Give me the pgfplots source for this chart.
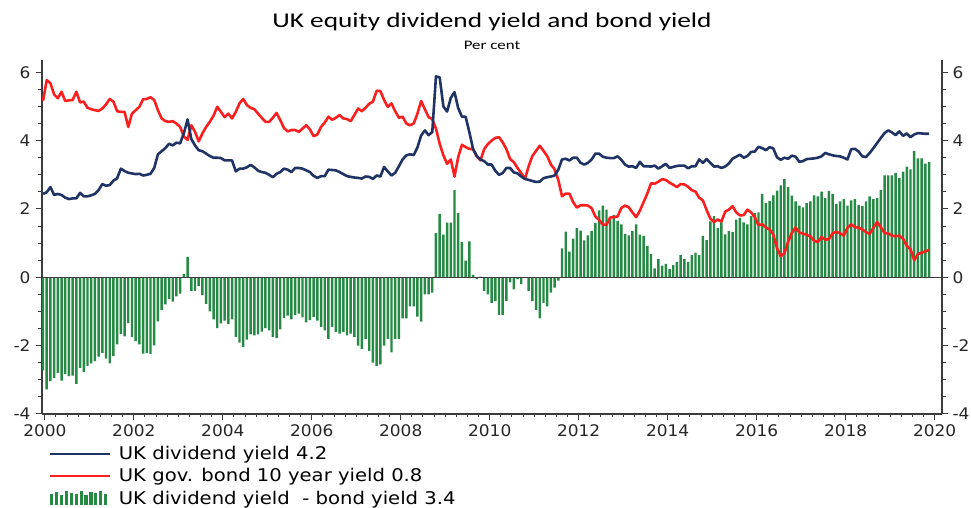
\documentclass[border=0pt]{standalone}
\usepackage{fontspec}
\usepackage{pgfplots}
\usepackage{pgfplotstable}
\pgfplotsset{compat=1.18}
\newfontfamily\titlefont[FakeStretch=1.3]{Carlito}
\newfontfamily\tickfont[FakeStretch=1.06]{DejaVu Sans}
\newfontfamily\legfont[FakeStretch=1.12]{DejaVu Sans}
\definecolor{navy}{RGB}{31,52,100}
\definecolor{bondred}{RGB}{250,32,32}
\definecolor{barg}{RGB}{38,138,68}
\definecolor{axgray}{RGB}{60,60,60}

\pgfplotstableread{
m div bond diff
0 2.44 5.16 -2.72
1 2.49 5.77 -3.28
2 2.64 5.68 -3.04
3 2.41 5.35 -2.94
4 2.44 5.24 -2.80
5 2.41 5.43 -3.02
6 2.33 5.16 -2.83
7 2.29 5.18 -2.89
8 2.31 5.19 -2.88
9 2.31 5.43 -3.12
10 2.47 5.12 -2.65
11 2.37 5.14 -2.77
12 2.37 4.96 -2.59
13 2.40 4.92 -2.52
14 2.44 4.89 -2.45
15 2.55 4.87 -2.32
16 2.73 4.94 -2.21
17 2.68 5.06 -2.38
18 2.70 5.22 -2.52
19 2.83 5.14 -2.31
20 2.90 4.86 -1.96
21 3.18 4.84 -1.66
22 3.11 4.84 -1.73
23 3.06 4.40 -1.34
24 3.04 4.79 -1.75
25 3.02 4.89 -1.87
26 3.03 4.99 -1.96
27 2.98 5.21 -2.23
28 3.00 5.22 -2.22
29 3.03 5.27 -2.24
30 3.20 5.19 -1.99
31 3.60 4.89 -1.29
32 3.69 4.65 -0.96
33 3.78 4.57 -0.79
34 3.91 4.55 -0.64
35 3.86 4.57 -0.71
36 3.94 4.50 -0.56
37 3.92 4.40 -0.48
38 4.22 4.12 0.10
39 4.62 4.02 0.60
40 4.05 4.45 -0.40
41 3.86 4.26 -0.40
42 3.72 3.98 -0.26
43 3.69 4.21 -0.52
44 3.62 4.40 -0.78
45 3.55 4.55 -1.00
46 3.50 4.73 -1.23
47 3.50 4.99 -1.49
48 3.49 4.84 -1.35
49 3.42 4.69 -1.27
50 3.42 4.79 -1.37
51 3.42 4.65 -1.23
52 3.10 4.84 -1.74
53 3.18 5.09 -1.91
54 3.18 5.22 -2.04
55 3.22 5.04 -1.82
56 3.29 4.96 -1.67
57 3.22 4.92 -1.70
58 3.12 4.79 -1.67
59 3.08 4.67 -1.59
60 3.06 4.55 -1.49
61 3.00 4.55 -1.55
62 2.93 4.67 -1.74
63 3.03 4.81 -1.78
64 3.08 4.60 -1.52
65 3.18 4.37 -1.19
66 3.15 4.27 -1.12
67 3.08 4.31 -1.23
68 3.20 4.31 -1.11
69 3.20 4.26 -1.06
70 3.18 4.35 -1.17
71 3.13 4.45 -1.32
72 3.08 4.33 -1.25
73 2.97 4.13 -1.16
74 2.91 4.18 -1.27
75 2.96 4.40 -1.45
76 2.96 4.53 -1.55
77 3.15 4.70 -1.80
78 3.14 4.61 -1.45
79 3.13 4.67 -1.60
80 3.08 4.75 -1.65
81 3.02 4.65 -1.60
82 2.96 4.63 -1.70
83 2.94 4.57 -1.65
84 2.92 4.75 -1.75
85 2.91 4.94 -2.00
86 2.89 4.86 -2.10
87 2.95 4.96 -1.80
88 2.94 5.08 -2.15
89 2.88 5.14 -2.50
90 2.98 5.46 -2.60
91 2.95 5.45 -2.55
92 3.23 5.19 -2.00
93 3.10 4.99 -1.80
94 2.98 5.09 -2.20
95 3.06 4.86 -1.80
96 3.25 4.67 -1.80
97 3.45 4.70 -1.20
98 3.57 4.50 -1.20
99 3.60 4.45 -0.85
100 3.58 4.50 -0.85
101 3.80 4.79 -1.15
102 4.15 5.16 -1.30
103 4.30 4.92 -0.50
104 4.16 4.69 -0.50
105 4.25 4.63 -0.45
106 5.88 4.35 1.29
107 5.85 3.91 1.86
108 5.00 3.57 1.25
109 4.85 3.32 1.60
110 5.25 3.45 1.60
111 5.42 2.95 2.55
112 4.95 3.52 1.88
113 4.70 3.88 1.03
114 4.70 3.81 0.49
115 4.25 3.76 1.05
116 3.76 3.75 0.07
117 3.55 3.54 -0.05
118 3.45 3.42 0.02
119 3.40 3.75 -0.40
120 3.30 3.90 -0.50
121 3.30 4.00 -0.75
122 3.12 4.08 -0.70
123 3.00 4.10 -1.10
124 3.05 3.95 -1.10
125 3.20 3.75 -0.70
126 3.20 3.46 -0.15
127 3.07 3.37 -0.35
128 3.04 3.20 -0.05
129 2.95 3.05 -0.20
130 2.88 2.88 -0.02
131 2.85 3.25 -0.40
132 2.82 3.55 -0.70
133 2.79 3.70 -0.95
134 2.80 3.85 -1.20
135 2.90 3.70 -0.75
136 2.93 3.55 -0.85
137 2.95 3.30 -0.45
138 2.98 3.16 -0.30
139 3.15 2.85 -0.10
140 3.45 2.37 0.85
141 3.47 2.45 1.34
142 3.42 2.45 0.75
143 3.50 2.20 1.13
144 3.50 2.04 1.44
145 3.35 2.11 1.37
146 3.30 2.11 1.08
147 3.35 2.10 1.23
148 3.45 2.02 1.36
149 3.62 1.78 1.59
150 3.62 1.68 1.96
151 3.53 1.54 2.10
152 3.50 1.54 1.98
153 3.49 1.75 1.72
154 3.49 1.76 1.83
155 3.54 1.78 1.65
156 3.44 2.03 1.55
157 3.30 2.10 1.27
158 3.24 2.05 1.23
159 3.25 1.90 1.35
160 3.20 1.76 1.55
161 3.38 1.95 1.25
162 3.25 2.20 1.21
163 3.25 2.45 0.92
164 3.24 2.75 0.68
165 3.27 2.74 0.26
166 3.18 2.80 0.53
167 3.25 2.87 0.34
168 3.32 2.85 0.39
169 3.20 2.77 0.24
170 3.23 2.71 0.36
171 3.26 2.64 0.45
172 3.27 2.73 0.65
173 3.27 2.72 0.53
174 3.19 2.65 0.45
175 3.25 2.55 0.65
176 3.25 2.51 0.72
177 3.45 2.33 0.65
178 3.35 2.25 1.21
179 3.46 1.97 1.09
180 3.35 1.72 1.64
181 3.24 1.62 1.79
182 3.25 1.69 1.45
183 3.20 1.63 1.61
184 3.24 1.92 1.26
185 3.33 1.98 1.35
186 3.47 2.08 1.32
187 3.53 1.90 1.69
188 3.59 1.81 1.74
189 3.50 1.82 1.61
190 3.55 1.98 1.55
191 3.67 1.90 1.79
192 3.68 1.76 1.88
193 3.82 1.53 1.90
194 3.78 1.55 2.44
195 3.72 1.46 2.17
196 3.81 1.40 2.24
197 3.77 1.25 2.40
198 3.51 0.85 2.54
199 3.44 0.62 2.69
200 3.50 0.70 2.87
201 3.47 1.05 2.64
202 3.56 1.30 2.39
203 3.53 1.46 2.22
204 3.38 1.31 2.10
205 3.40 1.28 2.05
206 3.46 1.24 2.17
207 3.47 1.20 2.22
208 3.48 1.07 2.40
209 3.50 1.03 2.37
210 3.54 1.18 2.51
211 3.64 1.10 2.32
212 3.60 1.12 2.53
213 3.57 1.29 2.44
214 3.55 1.33 2.15
215 3.54 1.29 2.22
216 3.50 1.22 2.29
217 3.45 1.45 2.10
218 3.75 1.55 2.25
219 3.76 1.47 2.29
220 3.68 1.45 2.12
221 3.54 1.40 2.08
222 3.52 1.32 2.22
223 3.64 1.27 2.37
224 3.78 1.45 2.29
225 3.93 1.62 2.32
226 4.08 1.46 2.56
227 4.22 1.30 2.98
228 4.30 1.28 2.98
229 4.24 1.22 2.98
230 4.16 1.20 3.06
231 4.27 1.22 2.90
232 4.14 1.13 3.09
233 4.21 0.92 3.24
234 4.10 0.82 3.16
235 4.18 0.50 3.70
236 4.22 0.68 3.48
237 4.21 0.72 3.48
238 4.20 0.76 3.33
239 4.20 0.80 3.38
}\data

\begin{document}
\begin{tikzpicture}
\useasboundingbox (0pt,0pt) rectangle (971pt,508pt);
\node[font=\titlefont\fontsize{21}{24}\selectfont] at (492pt,486pt) {UK equity dividend yield and bond yield};
\node[font=\titlefont\fontsize{13}{15}\selectfont] at (492pt,463pt) {Per cent};

\begin{axis}[
  at={(42pt,94pt)}, anchor=south west,
  width=900pt, height=354pt, scale only axis,
  xmin=-0.27, xmax=242.5, ymin=-4, ymax=6.36,
  axis x line*=bottom, axis y line*=left,
  axis line style={axgray, line width=1.3pt, -},
  xtick={0.5,24.5,...,240.5},
  xticklabels={2000,2002,2004,2006,2008,2010,2012,2014,2016,2018,2020},
  minor x tick num=7,
  ytick={-4,-2,0,2,4,6},
  yticklabels={-4,-2,0,2,4,6},
  minor y tick num=3,
  tick align=outside,
  major tick length=6pt, minor tick length=3.5pt,
  every tick/.style={axgray, line width=1pt},
  tick label style={font=\tickfont\fontsize{16}{18}\selectfont, text=black!85},
  yticklabel style={xshift=-2pt},
  xticklabel style={yshift=-1pt},
  legend style={at={(0.008,-0.086)}, anchor=north west, draw=none, fill=none,
    font=\legfont\fontsize{17.5}{21}\selectfont, row sep=4.5pt,
    inner sep=0pt,
    nodes={inner sep=1.5pt},
    /tikz/every odd column/.append style={column sep=6pt}},
  legend cell align=left,
]
\addplot[ybar, bar width=0.66, bar shift=0pt, fill=barg, draw=none, forget plot] table[x=m, y=diff] {\data};
\addplot[axgray, line width=1pt, forget plot] coordinates {(-0.27,0) (242.5,0)};
\addplot[bondred, line width=2.6pt, line join=round, forget plot] table[x=m, y=bond] {\data};
\addplot[navy, line width=2.6pt, line join=round, forget plot] table[x=m, y=div] {\data};

\addlegendimage{legend image code/.code={\draw[navy, line width=2pt] (0pt,0pt) -- (60pt,0pt);}}
\addlegendentry{UK dividend yield 4.2}
\addlegendimage{legend image code/.code={\draw[bondred, line width=2pt] (0pt,0pt) -- (60pt,0pt);}}
\addlegendentry{UK gov. bond 10 year yield 0.8}
\addlegendimage{legend image code/.code={
  \foreach \h [count=\i] in {10,12,9,13,11,10,13,9,12,11,13,10} {
    \fill[barg] ({(\i-1)*4.9pt},-6.5pt) rectangle ++(2.2pt,\h pt);
  }}}
\addlegendentry{UK dividend yield \ - bond yield 3.4}
\end{axis}

\begin{axis}[
  at={(42pt,94pt)}, anchor=south west,
  width=900pt, height=354pt, scale only axis,
  xmin=-0.27, xmax=242.5, ymin=-4, ymax=6.36,
  axis x line=none, axis y line*=right,
  axis line style={axgray, line width=1.3pt, -},
  ytick={-4,-2,0,2,4,6},
  yticklabels={-4,-2,0,2,4,6},
  minor y tick num=3,
  tick align=outside,
  major tick length=6pt, minor tick length=3.5pt,
  every tick/.style={axgray, line width=1pt},
  tick label style={font=\tickfont\fontsize{16}{18}\selectfont, text=black!85},
  yticklabel style={xshift=1pt},
]
\addplot[draw=none, forget plot] coordinates {(0,0)};
\end{axis}
\end{tikzpicture}
\end{document}
